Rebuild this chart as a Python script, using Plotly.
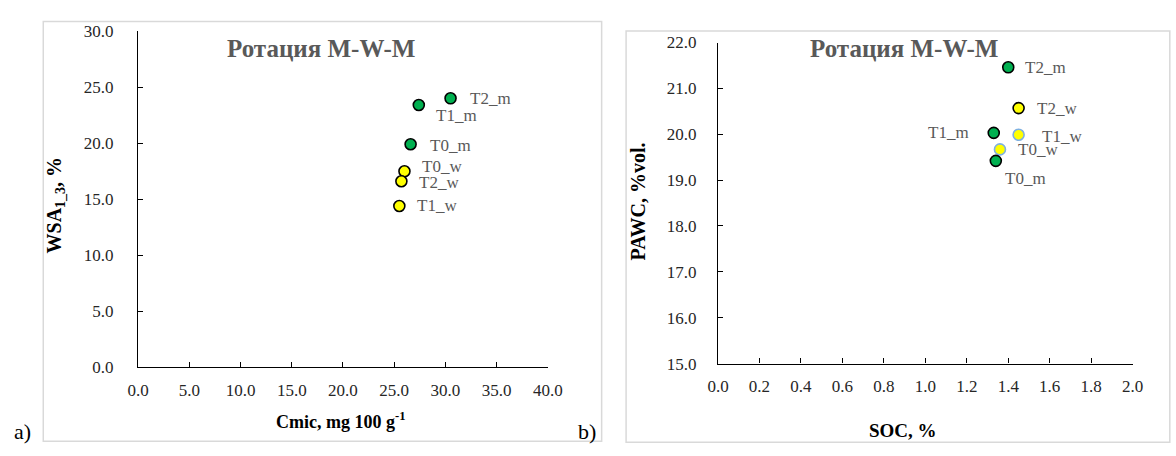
import plotly.graph_objects as go

# Panel a): microbial carbon vs water-stable aggregates
a_names = ["T2_m", "T1_m", "T0_m", "T0_w", "T2_w", "T1_w"]
a_cmic = [30.5, 27.4, 26.6, 26.0, 25.7, 25.5]
a_wsa = [24.0, 23.4, 19.9, 17.5, 16.6, 14.4]

# Panel b): soil organic carbon vs plant-available water
b_names = ["T2_m", "T2_w", "T1_m", "T1_w", "T0_w", "T0_m"]
b_soc = [1.40, 1.45, 1.33, 1.45, 1.36, 1.34]
b_pawc = [21.46, 20.57, 20.03, 19.99, 19.67, 19.42]

a_xticks = [0, 5, 10, 15, 20, 25, 30, 35, 40]
a_yticks = [0, 5, 10, 15, 20, 25, 30]
b_xticks = [0.0, 0.2, 0.4, 0.6, 0.8, 1.0, 1.2, 1.4, 1.6, 1.8, 2.0]
b_yticks = [15, 16, 17, 18, 19, 20, 21, 22]

W, H = 1176, 456
GREEN, YELLOW = "#00B050", "#FFFF00"
SERIF = "Liberation Serif, Times New Roman, serif"


def px(x):
    return x / W


def py(y):
    return 1 - y / H


def fill_for(name):
    return GREEN if name.endswith("_m") else YELLOW


# per-point outline colour in panel b (two wheat points are outlined in blue)
b_outline = {"T1_w": "#7EB0E0", "T0_w": "#7EB0E0"}

fig = go.Figure()

fig.add_trace(go.Scatter(
    x=a_cmic, y=a_wsa, mode="markers", xaxis="x", yaxis="y",
    marker=dict(size=11, color=[fill_for(n) for n in a_names],
                line=dict(color="black", width=1.6)),
    hoverinfo="text", text=a_names, showlegend=False,
))
fig.add_trace(go.Scatter(
    x=b_soc, y=b_pawc, mode="markers", xaxis="x2", yaxis="y2",
    marker=dict(size=11, color=[fill_for(n) for n in b_names],
                line=dict(color=[b_outline.get(n, "black") for n in b_names], width=1.6)),
    hoverinfo="text", text=b_names, showlegend=False,
))

# point labels: (xanchor, xshift, yshift)
a_offsets = {
    "T2_m": ("left", 17, 0),
    "T1_m": ("left", 15, -10),
    "T0_m": ("left", 17, -1),
    "T0_w": ("left", 16, 5),
    "T2_w": ("left", 16, -1),
    "T1_w": ("left", 16, 0),
}
b_offsets = {
    "T2_m": ("left", 15, 0),
    "T2_w": ("left", 16, 0),
    "T1_m": ("right", -23, 0),
    "T1_w": ("left", 21, -2),
    "T0_w": ("left", 16, 0),
    "T0_m": ("left", 7, -18),
}

annotations = []
lab_font = dict(family=SERIF, size=17, color="#595959")
for n, x, y in zip(a_names, a_cmic, a_wsa):
    anc, dx, dy = a_offsets[n]
    annotations.append(dict(x=x, y=y, xref="x", yref="y", text=n, showarrow=False,
                            xanchor=anc, yanchor="middle", xshift=dx, yshift=dy, font=lab_font))
for n, x, y in zip(b_names, b_soc, b_pawc):
    anc, dx, dy = b_offsets[n]
    annotations.append(dict(x=x, y=y, xref="x2", yref="y2", text=n, showarrow=False,
                            xanchor=anc, yanchor="middle", xshift=dx, yshift=dy, font=lab_font))

title_font = dict(family=SERIF, size=25, color="#595959")
for x, y, t in [(317, 41, "<b>Ротация M-W-M</b>"), (913, 41, "<b>Ротация M-W-M</b>")]:
    annotations.append(dict(x=px(x), y=py(y), xref="paper", yref="paper", text=t,
                            showarrow=False, xanchor="center", yanchor="middle", font=title_font))

annotations += [
    dict(x=px(337), y=py(429), xref="paper", yref="paper",
         text="<b>Cmic, mg 100 g<sup>-1</sup></b>", showarrow=False,
         xanchor="center", yanchor="middle", font=dict(family=SERIF, size=18, color="black")),
    dict(x=px(912), y=py(440), xref="paper", yref="paper",
         text="<b>SOC, %</b>", showarrow=False,
         xanchor="center", yanchor="middle", font=dict(family=SERIF, size=19, color="black")),
    dict(x=px(45), y=py(205), xref="paper", yref="paper",
         text="<b>WSA<sub>1_3</sub>, %</b>", showarrow=False, textangle=-90,
         xanchor="center", yanchor="middle", font=dict(family=SERIF, size=20, color="black")),
    dict(x=px(641), y=py(201), xref="paper", yref="paper",
         text="<b>PAWC, %vol.</b>", showarrow=False, textangle=-90,
         xanchor="center", yanchor="middle", font=dict(family=SERIF, size=20, color="black")),
    dict(x=px(1), y=py(441), xref="paper", yref="paper", text="a)", showarrow=False,
         xanchor="left", yanchor="middle", font=dict(family=SERIF, size=22, color="black")),
    dict(x=px(578), y=py(441), xref="paper", yref="paper", text="b)", showarrow=False,
         xanchor="left", yanchor="middle", font=dict(family=SERIF, size=22, color="black")),
]

tick_font = dict(family=SERIF, size=17, color="#262626")
axis_common = dict(showline=True, linecolor="black", linewidth=1.3, showgrid=False,
                   zeroline=False, ticks="inside", ticklen=5, tickwidth=1.3,
                   tickcolor="black", tickfont=tick_font, tickformat=".1f", mirror=False)

fig.update_layout(
    width=W, height=H,
    margin=dict(l=0, r=0, t=0, b=0),
    paper_bgcolor="white", plot_bgcolor="white",
    xaxis=dict(domain=[px(130), px(549)], range=[0, 40], tickvals=a_xticks,
               anchor="y", ticklabelstandoff=7, **axis_common),
    yaxis=dict(domain=[py(374), py(23)], range=[0, 30], tickvals=a_yticks,
               anchor="x", ticklabelstandoff=20, **axis_common),
    xaxis2=dict(domain=[px(723), px(1147)], range=[0, 2], tickvals=b_xticks,
                anchor="y2", ticklabelstandoff=7, **axis_common),
    yaxis2=dict(domain=[py(370), py(35)], range=[15, 22], tickvals=b_yticks,
                anchor="x2", ticklabelstandoff=17, **axis_common),
    annotations=annotations,
    shapes=[
        dict(type="rect", xref="paper", yref="paper", x0=px(33), x1=px(604),
             y0=py(451), y1=py(13), line=dict(color="#D9D9D9", width=1.5)),
        dict(type="rect", xref="paper", yref="paper", x0=px(629), x1=px(1185),
             y0=py(452), y1=py(23), line=dict(color="#D9D9D9", width=1.5)),
    ],
    showlegend=False,
)

fig.write_html("out.html")
